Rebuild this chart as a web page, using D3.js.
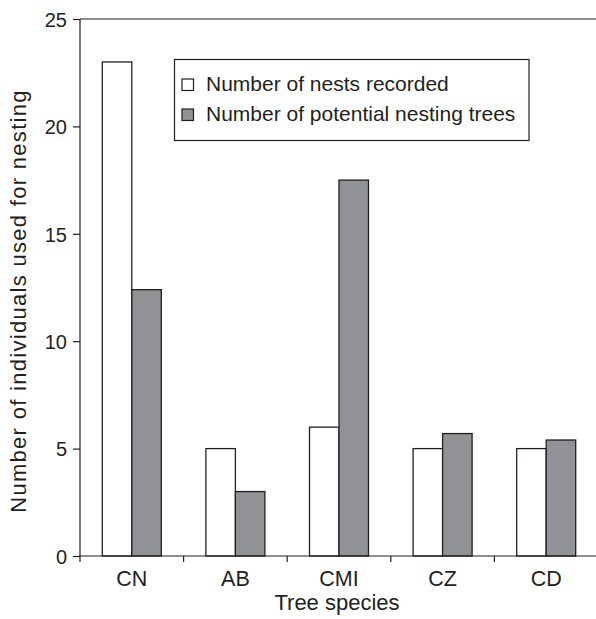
<!DOCTYPE html>
<html><head><meta charset="utf-8">
<script src="https://cdn.jsdelivr.net/npm/d3@7"></script>
<style>body{margin:0;background:#fff}svg{display:block}text{font-family:"Liberation Sans",Arial,sans-serif;fill:#231f20}</style>
</head><body>
<script>
const categories = ["CN", "AB", "CMI", "CZ", "CD"];
const nestsRecorded = [23, 5, 6, 5, 5];
const potentialTrees = [12.4, 3, 17.5, 5.7, 5.4];
const seriesNames = ["Number of nests recorded", "Number of potential nesting trees"];
const yTicks = [0, 5, 10, 15, 20, 25];

const W = 596, H = 619;
const m = {left: 80, top: 19, right: -2, bottom: 63};
const svg = d3.select("body").append("svg").attr("width", W).attr("height", H);
const x = d3.scaleBand().domain(categories).range([m.left, W - m.right]);
const y = d3.scaleLinear().domain([0, 25]).range([H - m.bottom, m.top]);
const ink = "#231f20", grayFill = "#919295";

// top frame line
svg.append("line").attr("x1", m.left).attr("x2", W).attr("y1", y(25)).attr("y2", y(25))
  .attr("stroke", ink).attr("stroke-width", 1.2);

const bw = 29.5;
const data = categories.map((c, i) => ({c, v: [nestsRecorded[i], potentialTrees[i]]}));
const g = svg.append("g");
data.forEach(d => {
  const cx = x(d.c) + x.bandwidth() / 2;
  d.v.forEach((v, j) => {
    g.append("rect").attr("x", cx - bw + j * bw).attr("width", bw)
      .attr("y", y(v)).attr("height", y(0) - y(v))
      .attr("fill", j ? grayFill : "#fff").attr("stroke", ink).attr("stroke-width", 1.3);
  });
});

// y axis
const ya = svg.append("g").attr("transform", `translate(${m.left},0)`)
  .call(d3.axisLeft(y).tickValues(yTicks).tickSize(7).tickPadding(6));
ya.select(".domain").attr("d", `M0,${y(25)}V${y(0) + 6}`);
ya.selectAll(".tick text").attr("dy", "0.36em").style("font-size", "20px");
// x axis
const xa = svg.append("g").attr("transform", `translate(0,${y(0)})`)
  .call(d3.axisBottom(x).tickSize(0).tickPadding(15));
xa.select(".domain").attr("d", `M${m.left},0H${W}`);
xa.selectAll(".tick text").style("font-size", "21.5px");
// tick marks between categories
categories.slice(1).forEach(c => {
  svg.append("line").attr("x1", x(c)).attr("x2", x(c)).attr("y1", y(0)).attr("y2", y(0) + 6)
    .attr("stroke", ink).attr("stroke-width", 1.2);
});
svg.selectAll(".domain").attr("stroke", ink).attr("stroke-width", 1.2);
svg.selectAll(".tick line").attr("stroke", ink).attr("stroke-width", 1.2);
svg.selectAll(".tick text").attr("fill", ink);

svg.append("text").attr("x", 337).attr("y", 610).attr("text-anchor", "middle")
  .style("font-size", "22px").text("Tree species");
svg.append("text").attr("transform", "translate(26,301) rotate(-90)").attr("text-anchor", "middle")
  .style("font-size", "22px").style("letter-spacing", "1.3px").text("Number of individuals used for nesting");

// legend
const lg = svg.append("g");
lg.append("rect").attr("x", 174.5).attr("y", 59.5).attr("width", 354.5).attr("height", 81)
  .attr("fill", "#fff").attr("stroke", ink).attr("stroke-width", 1.2);
seriesNames.forEach((s, i) => {
  lg.append("rect").attr("x", 182).attr("y", 79 + i * 30).attr("width", 11.5).attr("height", 11.5)
    .attr("fill", i ? grayFill : "#fff").attr("stroke", ink).attr("stroke-width", 1.2);
  lg.append("text").attr("x", 206).attr("y", 91 + i * 30).style("font-size", "21px").text(s);
});
</script>
</body></html>
